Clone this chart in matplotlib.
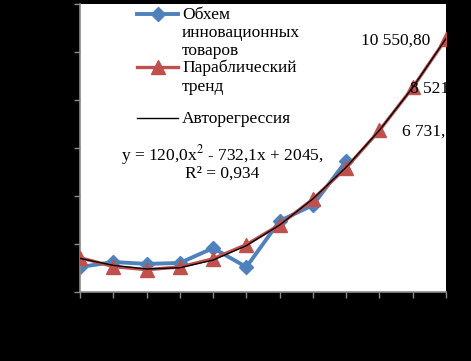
import matplotlib.pyplot as plt
from matplotlib.lines import Line2D

# data
periods = list(range(1, 13))
volume = [1040, 1250, 1170, 1210, 1830, 1040, 2960, 3620, 5460]
trend = [1430, 1060, 930, 1040, 1385, 1975, 2800, 3870, 5180, 6731, 8521, 10550.80]
autoreg = [1400, 1110, 960, 1010, 1330, 1930, 2790, 3880, 5200, 6740, 8520, 10560]
trend_labels = ["6 731,", "8 521", "10 550,80"]  # last three trend points

blue = "#4F81BD"
red = "#C0504D"
grey = "#8C8C8C"
serif = "Liberation Serif"
fs = 12.5

fig = plt.figure(figsize=(4.71, 3.61), dpi=100, facecolor="black")
ax = fig.add_axes([80 / 471, 1 - 292 / 361, 366 / 471, 288 / 361])
ax.set_facecolor("white")

ax.plot(periods[:len(volume)], volume, color=blue, lw=2.8, marker="D", ms=7.5,
        zorder=2)
ax.plot(periods, trend, color=red, lw=2.4, marker="^", ms=9.5, zorder=3)
ax.plot(periods, autoreg, color="black", lw=1.0, zorder=4)

# data labels: (x offset in points, alignment) as Excel placed them
label_pos = [(16.5, "left"), (-2, "left"), (-11.5, "right")]
for x, y, txt, (dx, ha) in zip(periods[-3:], trend[-3:], trend_labels, label_pos):
    ax.annotate(txt, (x, y), xytext=(dx, -1), textcoords="offset points",
                ha=ha, va="center", fontsize=fs, family=serif,
                annotation_clip=False, clip_on=True, zorder=5)

ax.set_xlim(1, 12)
ax.set_ylim(0, 12000)
ax.set_xticks(periods)
ax.set_yticks(range(0, 12001, 2000))
ax.set_xticklabels([])
ax.set_yticklabels([])
ax.tick_params(direction="out", length=4, width=1, color=grey)
for side in ("top", "right"):
    ax.spines[side].set_visible(False)
for side in ("left", "bottom"):
    ax.spines[side].set_color(grey)
    ax.spines[side].set_linewidth(1.2)


# legend drawn by hand, Excel style (handle on first line of each entry)
def px(x, y):
    return ((x - 80) / 366, (292 - y) / 288)


entries = [
    (14, blue, "D", 2.8, 7.5, "Обхем\nинновационных\nтоваров"),
    (67, red, "^", 2.4, 9.5, "Параблический\nтренд"),
    (118, "black", None, 1.0, 0, "Авторегрессия"),
]
for y, c, m, lw, ms, label in entries:
    x0, yy = px(137, y)
    x1, _ = px(178, y)
    ax.add_line(Line2D([x0, x1], [yy, yy], color=c, lw=lw, transform=ax.transAxes,
                       zorder=6))
    if m:
        ax.add_line(Line2D([(x0 + x1) / 2], [yy], color=c, marker=m, ms=ms,
                           transform=ax.transAxes, zorder=6))
    tx, ty = px(182, y - 7)
    ax.text(tx, ty, label, transform=ax.transAxes, ha="left", va="top",
            fontsize=fs, family=serif, linespacing=1.17)

ex, ey = px(222, 162)
ax.text(ex, ey, "y = 120,0x$^2$ - 732,1x + 2045,\nR² = 0,934", transform=ax.transAxes,
        ha="center", va="center", fontsize=fs, family=serif, linespacing=0.88,
        math_fontfamily="stix")

fig.savefig("out.png", dpi=100, facecolor="black")
